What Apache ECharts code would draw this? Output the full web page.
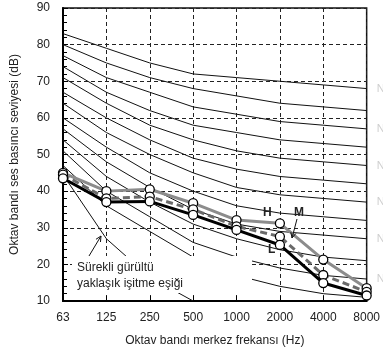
<!DOCTYPE html>
<html>
<head>
<meta charset="utf-8">
<script src="https://cdn.jsdelivr.net/npm/echarts@6/dist/echarts.min.js"></script>
<style>
html, body { margin: 0; padding: 0; background: #fff; }
#chart { width: 383px; height: 356px; }
</style>
</head>
<body>
<div id="chart"></div>
<script>
// octave band centre frequencies
var freqs = ['63', '125', '250', '500', '1000', '2000', '4000', '8000'];

// NC curves (dB)
var nc15 = [47, 36, 29, 22, 17, 14, 12, 11];
var nc20 = [51, 40, 33, 26, 22, 19, 17, 16];
var nc25 = [54, 44, 37, 31, 27, 24, 22, 21];
var nc30 = [57, 48, 41, 35, 31, 29, 28, 27];
var nc35 = [60, 52, 45, 40, 36, 34, 33, 32];
var nc40 = [64, 56, 50, 45, 41, 39, 38, 37];
var nc45 = [67, 60, 54, 49, 46, 44, 43, 42];
var nc50 = [71, 64, 58, 54, 51, 49, 48, 47];
var nc55 = [74, 67, 62, 58, 56, 54, 53, 52];
var nc60 = [77, 71, 67, 63, 61, 59, 58, 57];
var nc65 = [80, 75, 71, 68, 66, 64, 63, 62];
var nc70 = [83, 79, 75, 72, 71, 70, 69, 68];

// approx. hearing threshold for continuous noise
var threshold = [44.5, 27, 16.5, 10];

// measured levels
var hLevels = [45, 40, 40.5, 36.7, 32.1, 31.2, 21.3, 13.5];
var mLevels = [44.5, 38, 38.5, 35, 30.4, 27.6, 17.1, 12.5];
var lLevels = [43.5, 37, 37.2, 33.5, 29.4, 25.3, 14.9, 11.5];

var ncList = [
  ['NC-15', nc15], ['NC-20', nc20], ['NC-25', nc25], ['NC-30', nc30],
  ['NC-35', nc35], ['NC-40', nc40], ['NC-45', nc45], ['NC-50', nc50],
  ['NC-55', nc55], ['NC-60', nc60], ['NC-65', nc65], ['NC-70', nc70]
];

var font = 'Liberation Sans, Arial, sans-serif';
var myChart = echarts.init(document.getElementById('chart'));

var series = [];
ncList.forEach(function (item, i) {
  series.push({
    name: item[0],
    type: 'line',
    data: item[1],
    symbol: 'none',
    silent: true,
    z: 2,
    lineStyle: { color: '#111', width: 1 },
    endLabel: {
      show: i % 2 === 1,
      formatter: item[0],
      color: '#cfcfcf',
      fontSize: 11,
      fontFamily: font,
      distance: 10
    }
  });
});

series.push({
  name: 'esik',
  type: 'line',
  data: threshold,
  symbol: 'none',
  silent: true,
  z: 2,
  lineStyle: { color: '#111', width: 1 }
});

function measured(name, data, color, type) {
  return {
    name: name,
    type: 'line',
    data: data,
    symbol: 'circle',
    symbolSize: 9,
    z: 5,
    lineStyle: { color: color, width: 3, type: type },
    itemStyle: { color: '#fff', borderColor: '#000', borderWidth: 1.3 }
  };
}
series.push(measured('H', hLevels, '#8c8c8c', 'solid'));
series.push(measured('M', mLevels, '#6a6a6a', [7, 4]));
series.push(measured('L', lLevels, '#000', 'solid'));

function arrow(x1, y1, x2, y2) {
  var dx = x2 - x1, dy = y2 - y1;
  var len = Math.sqrt(dx * dx + dy * dy);
  var ux = dx / len, uy = dy / len;
  var hl = 6, a = 0.45;
  var c = Math.cos(a), s = Math.sin(a);
  var p1 = [x2 - hl * (ux * c - uy * s), y2 - hl * (uy * c + ux * s)];
  var p2 = [x2 - hl * (ux * c + uy * s), y2 - hl * (uy * c - ux * s)];
  return [
    { type: 'line', z: 60, shape: { x1: x1, y1: y1, x2: x2, y2: y2 }, style: { stroke: '#111', lineWidth: 1 } },
    { type: 'polyline', z: 60, shape: { points: [p1, [x2, y2], p2] }, style: { stroke: '#111', lineWidth: 1, fill: null } }
  ];
}

var graphics = [
  { type: 'rect', z: 50, shape: { x: 72, y: 256, width: 180, height: 37 }, style: { fill: '#fff' } },
  { type: 'text', z: 51, x: 77, y: 262, style: { text: 'Sürekli gürültü', font: '12px ' + font, fill: '#222' } },
  { type: 'text', z: 51, x: 77, y: 278, style: { text: 'yaklaşık işitme eşiği', font: '12px ' + font, fill: '#222' } },
  { type: 'text', z: 51, x: 263, y: 207, style: { text: 'H', font: 'bold 12px ' + font, fill: '#222' } },
  { type: 'text', z: 51, x: 294, y: 207, style: { text: 'M', font: 'bold 12px ' + font, fill: '#222' } },
  { type: 'text', z: 51, x: 268, y: 244, style: { text: 'L', font: 'bold 12px ' + font, fill: '#222' } }
].concat(arrow(89, 256, 101, 236)).concat(arrow(297, 219, 292, 238));

var option = {
  animation: false,
  backgroundColor: '#fff',
  grid: {
    left: 63,
    right: 13,
    top: 8,
    bottom: 55,
    show: true,
    borderColor: '#111',
    borderWidth: 1.5
  },
  xAxis: {
    type: 'category',
    data: freqs,
    boundaryGap: false,
    name: 'Oktav bandı merkez frekansı (Hz)',
    nameLocation: 'middle',
    nameGap: 34,
    nameTextStyle: { color: '#222', fontSize: 12, fontFamily: font },
    axisLine: { lineStyle: { color: '#000', width: 2 } },
    axisTick: { show: true, inside: true, length: 5, lineStyle: { color: '#000' } },
    axisLabel: { color: '#222', fontSize: 12, fontFamily: font, margin: 11, interval: 0 },
    splitLine: { show: true, lineStyle: { color: '#222', width: 1, type: [4, 3] } }
  },
  yAxis: {
    type: 'value',
    min: 10,
    max: 90,
    interval: 10,
    name: 'Oktav bandı ses basıncı seviyesi (dB)',
    nameLocation: 'middle',
    nameGap: 42,
    nameTextStyle: { color: '#222', fontSize: 12, fontFamily: font },
    axisLine: { show: true, lineStyle: { color: '#000', width: 2 } },
    axisTick: { show: true, inside: true, length: 5, lineStyle: { color: '#000' } },
    minorTick: { show: true, splitNumber: 5, length: 4, lineStyle: { color: '#000' } },
    axisLabel: { color: '#222', fontSize: 12, fontFamily: font, margin: 13 },
    splitLine: { show: true, lineStyle: { color: '#222', width: 1, type: [4, 3] } }
  },
  graphic: graphics,
  series: series
};

myChart.setOption(option);
</script>
</body>
</html>
